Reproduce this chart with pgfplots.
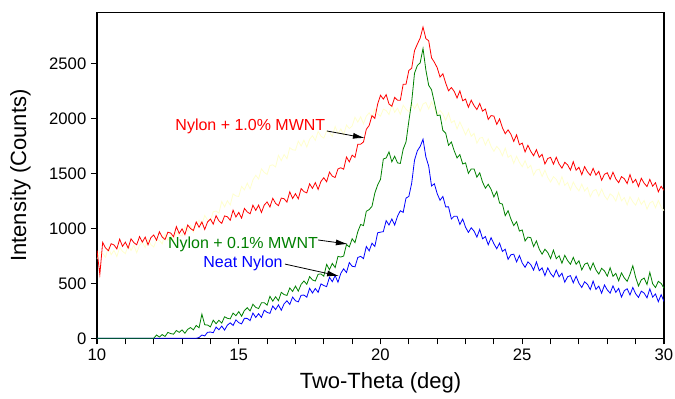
\documentclass[border=0pt]{standalone}
\usepackage{fontspec}
\setmainfont{Liberation Sans}
\usepackage{pgfplots}
\usepackage{pgfplotstable}
\pgfplotsset{compat=1.18}
\usetikzlibrary{arrows.meta}
\definecolor{cRed}{RGB}{255,0,0}
\definecolor{cGreen}{RGB}{0,128,0}
\definecolor{cBlue}{RGB}{0,0,255}
\definecolor{cYel}{RGB}{255,255,205}
\pgfplotstableread{
x R G B Y
10.0 800 0 0 720
10.1 580 0 0 784
10.2 873 0 0 773
10.3 822 0 0 737
10.4 796 0 0 826
10.5 860 0 0 760
10.6 849 0 0 799
10.7 813 0 0 743
10.8 902 0 0 827
10.9 836 0 0 791
11.0 875 0 0 770
11.1 820 0 0 847
11.2 905 0 0 799
11.3 870 0 0 846
11.4 850 0 0 778
11.5 925 0 0 845
11.6 875 0 0 872
11.7 920 0 0 824
11.8 850 0 0 901
11.9 915 0 0 853
12.0 940 0 0 830
12.1 892 30 0 898
12.2 969 12 0 891
12.3 921 34 0 859
12.4 898 17 0 952
12.5 965 54 0 890
12.6 957 43 0 933
12.7 924 38 0 881
12.8 1016 71 0 969
12.9 953 54 0 937
13.0 995 77 0 930
13.1 943 46 0 1014
13.2 1030 82 0 973
13.3 998 98 0 1027
13.4 980 77 0 966
13.5 1058 117 0 1040
13.6 1010 96 8 1074
13.7 1058 220 30 1033
13.8 990 123 22 1117
13.9 1058 121 55 1076
14.0 1085 104 57 1070
14.1 1038 165 51 1151
14.2 1115 133 102 1157
14.3 1068 164 78 1138
14.4 1045 138 111 1244
14.5 1113 196 75 1195
14.6 1105 182 120 1251
14.7 1073 177 141 1212
14.8 1165 229 117 1313
14.9 1103 206 168 1294
15.0 1145 243 143 1290
15.1 1093 201 131 1382
15.2 1181 253 182 1349
15.3 1149 278 181 1411
15.4 1132 249 161 1358
15.5 1210 310 230 1440
15.6 1163 281 190 1482
15.7 1211 271 224 1449
15.8 1144 323 190 1541
15.9 1212 324 256 1508
16.0 1240 302 236 1490
16.1 1194 382 227 1571
16.2 1273 338 294 1577
16.3 1227 378 261 1558
16.4 1206 342 304 1664
16.5 1275 418 255 1615
16.6 1269 398 314 1671
16.7 1238 390 341 1632
16.8 1332 458 308 1733
16.9 1271 426 375 1714
17.0 1315 475 342 1710
17.1 1268 429 331 1792
17.2 1361 491 392 1749
17.3 1334 521 393 1801
17.4 1322 491 374 1738
17.5 1405 561 455 1810
17.6 1363 531 412 1842
17.7 1416 521 453 1799
17.8 1354 583 418 1881
17.9 1427 585 495 1838
18.0 1460 565 480 1820
18.1 1423 672 470 1884
18.2 1511 624 555 1873
18.3 1474 681 515 1837
18.4 1462 643 570 1926
18.5 1540 745 510 1860
18.6 1551 739 591 1903
18.7 1537 748 632 1851
18.8 1648 852 598 1939
18.9 1604 831 689 1907
19.0 1665 905 655 1930
19.1 1645 870 650 2010
19.2 1765 970 735 1965
19.3 1765 1035 745 2015
19.4 1785 1025 725 1950
19.5 1900 1155 835 2020
19.6 1935 1170 795 2050
19.7 2025 1200 865 2005
19.8 2000 1320 835 2085
19.9 2130 1395 960 2040
20.0 2210 1445 965 2020
20.1 2175 1630 970 2083
20.2 2215 1640 1070 2071
20.3 2130 1695 1030 2034
20.4 2110 1605 1085 2122
20.5 2190 1655 1030 2055
20.6 2165 1595 1110 2093
20.7 2165 1590 1160 2036
20.8 2310 1720 1145 2119
20.9 2310 1785 1275 2082
21.0 2435 1975 1290 2060
21.1 2455 2150 1410 2136
21.2 2615 2410 1620 2087
21.3 2675 2480 1705 2133
21.4 2730 2505 1745 2064
21.5 2830 2635 1810 2130
21.6 2725 2440 1650 2145
21.7 2705 2300 1565 2085
21.8 2550 2260 1385 2150
21.9 2510 2145 1405 2090
22.0 2460 2025 1315 2030
22.1 2375 2030 1255 2072
22.2 2405 1890 1290 2039
22.3 2320 1865 1195 1981
22.4 2250 1755 1195 2048
22.5 2280 1785 1085 1960
22.6 2245 1705 1110 1979
22.7 2185 1640 1110 1903
22.8 2250 1670 1035 1967
22.9 2160 1585 1085 1911
23.0 2175 1595 1010 1850
23.1 2100 1500 963 1906
23.2 2165 1540 1005 1837
23.3 2115 1540 975 1863
23.4 2080 1465 920 1774
23.5 2135 1505 990 1820
23.6 2065 1420 905 1826
23.7 2085 1365 925 1757
23.8 1990 1400 850 1813
23.9 2025 1355 915 1744
24.0 2020 1285 860 1700
24.1 1945 1335 815 1745
24.2 1995 1230 865 1715
24.3 1915 1220 790 1660
24.4 1860 1115 810 1730
24.5 1895 1160 718 1645
24.6 1855 1085 760 1665
24.7 1790 1025 765 1590
24.8 1850 1060 695 1655
24.9 1760 975 753 1600
25.0 1775 985 685 1560
25.1 1695 885 645 1616
25.2 1755 920 695 1547
25.3 1700 915 670 1573
25.4 1660 835 620 1484
25.5 1715 885 695 1530
25.6 1645 810 615 1538
25.7 1673 765 640 1471
25.8 1585 810 570 1529
25.9 1635 780 640 1462
26.0 1645 725 590 1420
26.1 1583 802 558 1470
26.2 1646 724 621 1445
26.3 1584 751 559 1395
26.4 1547 683 592 1470
26.5 1600 755 510 1390
26.6 1577 707 560 1417
26.7 1529 674 570 1349
26.8 1606 736 505 1421
26.9 1528 673 565 1373
27.0 1555 705 500 1340
27.1 1488 622 462 1402
27.2 1561 674 514 1339
27.3 1514 686 491 1371
27.4 1482 623 443 1288
27.5 1545 685 520 1340
27.6 1484 622 445 1354
27.7 1518 584 475 1293
27.8 1437 636 410 1357
27.9 1491 613 485 1296
28.0 1505 565 440 1260
28.1 1445 642 411 1314
28.2 1510 564 477 1293
28.3 1450 591 418 1247
28.4 1415 523 454 1326
28.5 1470 595 375 1250
28.6 1451 549 433 1279
28.7 1407 518 451 1213
28.8 1488 582 394 1287
28.9 1414 660 462 1241
29.0 1445 555 405 1210
29.1 1380 476 372 1276
29.2 1455 532 429 1217
29.3 1410 548 411 1253
29.4 1380 489 368 1174
29.5 1445 600 450 1230
29.6 1383 496 375 1246
29.7 1415 462 403 1187
29.8 1332 518 333 1253
29.9 1382 499 397 1194
30.0 1345 455 335 1160
}\xrd
\begin{document}
\begin{tikzpicture}
\path[use as bounding box] (-72.75pt,-45.5pt) rectangle (433.5pt,253.75pt);
\begin{axis}[
  at={(0,0)}, anchor=south west,
  scale only axis, width=425.25pt, height=244.2pt,
  xmin=10, xmax=30, ymin=0, ymax=2960,
  xtick={10,15,20,25,30}, minor x tick num=4,
  ytick={0,500,1000,1500,2000,2500},
  tick align=outside, xtick pos=bottom, ytick pos=left,
  major tick length=4.5pt, minor tick length=4.5pt,
  every tick/.style={black, line width=0.8pt},
  axis line style={line width=1pt},
  /pgf/number format/assume math mode=true,
  /pgf/number format/1000 sep={},
  ticklabel style={font=\fontsize{12.5}{14}\selectfont},
  xlabel={Two-Theta (deg)}, ylabel={Intensity (Counts)},
  label style={font=\fontsize{16.5}{19}\selectfont},
  xlabel style={at={(axis description cs:0.5,-0.137)}, anchor=center},
  ylabel style={at={(axis description cs:-0.1352,0.5)}, anchor=center},
]
\addplot[cYel, line width=0.6pt] table[x=x, y=Y] {\xrd};
\addplot[cRed, line width=0.6pt] table[x=x, y=R] {\xrd};
\addplot[cBlue, line width=0.6pt] table[x=x, y=B] {\xrd};
\addplot[cGreen, line width=0.6pt] table[x=x, y=G] {\xrd};
\node[cRed, font=\fontsize{12}{14}\selectfont] at (axis cs:15.41,1930) {Nylon + 1.0\% MWNT};
\node[cGreen, font=\fontsize{12}{14}\selectfont] at (axis cs:15.15,857) {Nylon + 0.1\% MWNT};
\node[cBlue, font=\fontsize{12}{14}\selectfont] at (axis cs:15.15,685) {Neat Nylon};
\draw[-{Latex[length=9pt,width=4.5pt]}, black, line width=0.6pt] (axis cs:18.11,1885) -- (axis cs:19.45,1821);
\draw[-{Latex[length=9pt,width=4.5pt]}, black, line width=0.6pt] (axis cs:17.8,894) -- (axis cs:18.85,857);
\draw[-{Latex[length=9pt,width=4.5pt]}, black, line width=0.6pt] (axis cs:16.63,675) -- (axis cs:18.54,566);
\end{axis}
\end{tikzpicture}
\end{document}
